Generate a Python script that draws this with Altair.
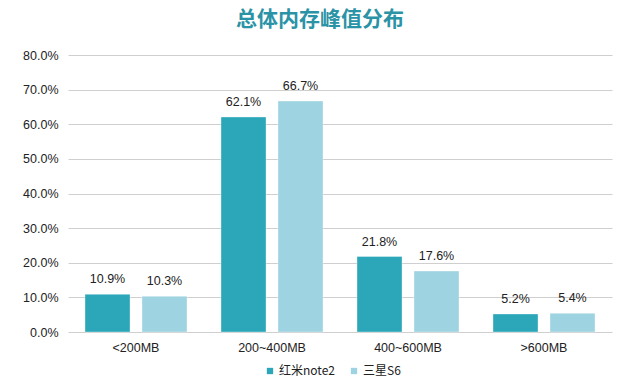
import altair as alt
import pandas as pd

categories = ["<200MB", "200~400MB", "400~600MB", ">600MB"]
series = ["红米note2", "三星S6"]
redmi_values = [0.109, 0.621, 0.218, 0.052]
samsung_values = [0.103, 0.667, 0.176, 0.054]
colors = ["#2BA7B9", "#9ED3E1"]

rows = []
for c, a, b in zip(categories, redmi_values, samsung_values):
    rows.append({"cat": c, "series": series[0], "value": a})
    rows.append({"cat": c, "series": series[1], "value": b})
df = pd.DataFrame(rows)

latin = "Liberation Sans"
cjk = "Noto Sans CJK SC"

x = alt.X("cat:N", sort=categories, title=None,
          scale=alt.Scale(paddingInner=0.25, paddingOuter=0.125),
          axis=alt.Axis(labelAngle=0, labelFont=latin, labelFontSize=12.5,
                        labelColor="#222", labelPadding=9, ticks=False,
                        domain=False, grid=False))
xo = alt.XOffset("series:N", sort=series,
                 scale=alt.Scale(paddingInner=0.21, paddingOuter=0))
y = alt.Y("value:Q", title=None,
          scale=alt.Scale(domain=[0, 0.8], nice=False),
          axis=alt.Axis(format=".1%", values=[i / 10 for i in range(9)],
                        labelFont=latin, labelFontSize=12.5, labelColor="#222",
                        labelPadding=10, ticks=False, domain=False,
                        grid=True, gridColor="#cfcfcf", gridWidth=1))

base = alt.Chart(df)

bars = base.mark_bar(stroke="#ffffff", strokeOpacity=0.35, strokeWidth=1).encode(
    x=x, xOffset=xo, y=y,
    color=alt.Color("series:N", sort=series,
                    scale=alt.Scale(domain=series, range=colors),
                    legend=alt.Legend(title=None, orient="none", direction="horizontal",
                                      legendX=196, legendY=310,
                                      symbolType="square", symbolSize=40,
                                      symbolStrokeWidth=0,
                                      labelFont=cjk, labelFontSize=12,
                                      labelColor="#222", columnPadding=12,
                                      symbolOffset=0, labelOffset=3)),
)

labels = base.mark_text(dy=-8, font=latin, fontSize=12.5, color="#222", baseline="bottom").encode(
    x=x, xOffset=xo, y=y,
    text=alt.Text("value:Q", format=".1%"),
)

chart = alt.layer(bars, labels).properties(
    width=544, height=277,
    background="white",
    title=alt.TitleParams("总体内存峰值分布", font=cjk, fontSize=21, fontWeight="bold",
                          color="#2B93A6", anchor="middle", dx=-20, offset=19),
    autosize=alt.AutoSizeParams(type="none"),
    padding={"left": 60, "top": 47, "right": 20, "bottom": 44},
).configure_view(strokeWidth=0, stroke="transparent")

chart.save("out.html", embed_options={"renderer": "svg", "actions": False})
